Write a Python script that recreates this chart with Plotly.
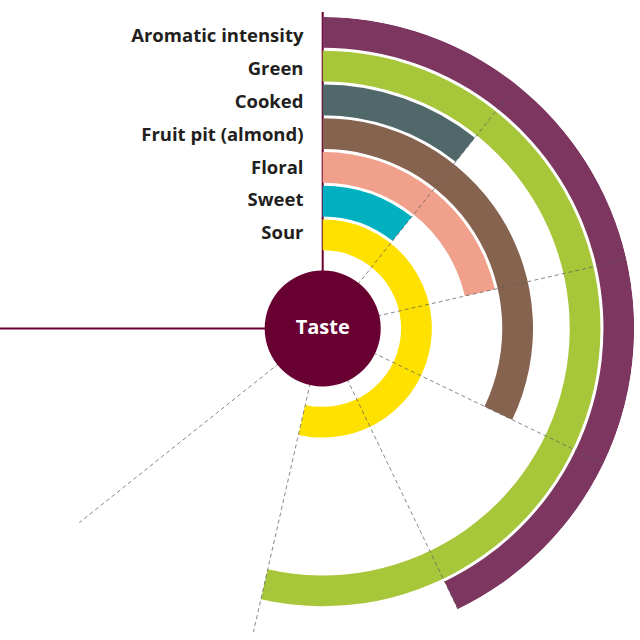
import plotly.graph_objects as go

# ---- data ----
categories = ["Aromatic intensity", "Green", "Cooked", "Fruit pit (almond)",
              "Floral", "Sweet", "Sour"]
values = [4, 5, 1, 3, 2, 1, 5]
colors = ["#7D365F", "#A8C63A", "#51686A", "#86634F", "#F1A08B", "#00B0C0", "#FFE100"]
scale_ticks = [1, 2, 3, 4, 5, 6]
scale_max = 7
center_label = "Taste"

# ---- geometry / styling ----
SWEEP = 270.0                      # degrees covered by 0..scale_max


def to_deg(v):
    return v * SWEEP / scale_max


R_MAX = 314.0
CENTER_R = 58.5
RING_PITCH = 34.0
RING_WIDTH = 31.0
LABEL_PITCH = 33.2
n = len(categories)
outer = [R_MAX - i * RING_PITCH for i in range(n)]
bases = [o - RING_WIDTH for o in outer]
mids = [b + RING_WIDTH / 2 for b in bases]
label_r = [mids[-1] + (n - 1 - i) * LABEL_PITCH for i in range(n)]

W = H = 640
cx, cy_top, rad = 322.7, 328.5, 311.5
dom_x = [(cx - rad) / W, (cx + rad) / W]
dom_y = [(H - cy_top - rad) / H, (H - cy_top + rad) / H]

AXIS_COLOR = "#6B0033"
FONT = "Open Sans"

fig = go.Figure()

# ring bars
fig.add_trace(go.Barpolar(
    r=[RING_WIDTH] * n,
    base=bases,
    theta=[to_deg(v) / 2 for v in values],
    width=[to_deg(v) for v in values],
    marker=dict(color=colors, line=dict(width=0)),
    hoverinfo="skip",
    subplot="polar",
))

# dashed scale grid lines, drawn over the bars
grid_r, grid_t = [], []
for t in scale_ticks:
    grid_r += [0, R_MAX, None]
    grid_t += [to_deg(t), to_deg(t), None]
fig.add_trace(go.Scatterpolar(
    r=grid_r, theta=grid_t, mode="lines",
    line=dict(color="rgba(95,95,95,0.75)", width=1, dash="4px,3px"),
    connectgaps=False, hoverinfo="skip", subplot="polar",
))

# category labels
fig.add_trace(go.Scatterpolar(
    r=label_r, theta=[0] * n, mode="text",
    text=[c + "\u00a0" * 4 for c in categories],
    textposition="middle left",
    textfont=dict(family=FONT, size=18.5, color="#231F20", weight=700),
    cliponaxis=False, hoverinfo="skip", subplot="polar",
))

# center disk + label
fig.add_trace(go.Barpolar(
    r=[CENTER_R], base=[0], theta=[0], width=[360],
    marker=dict(color="#680031", line=dict(width=0)),
    hoverinfo="skip", subplot="polar2",
))
fig.add_trace(go.Scatterpolar(
    r=[0], theta=[0], mode="text", text=[center_label],
    textposition="middle center",
    textfont=dict(family=FONT, size=20, color="white", weight=700),
    cliponaxis=False, hoverinfo="skip", subplot="polar2",
))

# axis lines: start of scale (top) and end of scale (left), drawn under the disk
cxp = (dom_x[0] + dom_x[1]) / 2
cyp = (dom_y[0] + dom_y[1]) / 2
fig.add_shape(type="line", xref="paper", yref="paper", layer="below",
              x0=cxp, x1=cxp, y0=cyp, y1=(H - cy_top + rad + 5) / H,
              line=dict(color=AXIS_COLOR, width=2))
fig.add_shape(type="line", xref="paper", yref="paper", layer="below",
              x0=0, x1=cxp, y0=cyp, y1=cyp,
              line=dict(color=AXIS_COLOR, width=2))

fig.update_layout(
    width=W, height=H,
    margin=dict(l=0, r=0, t=0, b=0),
    paper_bgcolor="white",
    plot_bgcolor="white",
    showlegend=False,
    polar=dict(
        domain=dict(x=dom_x, y=dom_y),
        bgcolor="rgba(0,0,0,0)",
        radialaxis=dict(visible=False, range=[0, R_MAX]),
        angularaxis=dict(
            rotation=90, direction="clockwise",
            showticklabels=False, ticks="", showline=False, showgrid=False,
        ),
    ),
    polar2=dict(
        domain=dict(x=dom_x, y=dom_y),
        bgcolor="rgba(0,0,0,0)",
        radialaxis=dict(visible=False, range=[0, R_MAX]),
        angularaxis=dict(visible=False, rotation=90, direction="clockwise"),
    ),
)

fig.write_html("out.html", config={"displayModeBar": False},
               post_script="document.body.style.margin='0';")
